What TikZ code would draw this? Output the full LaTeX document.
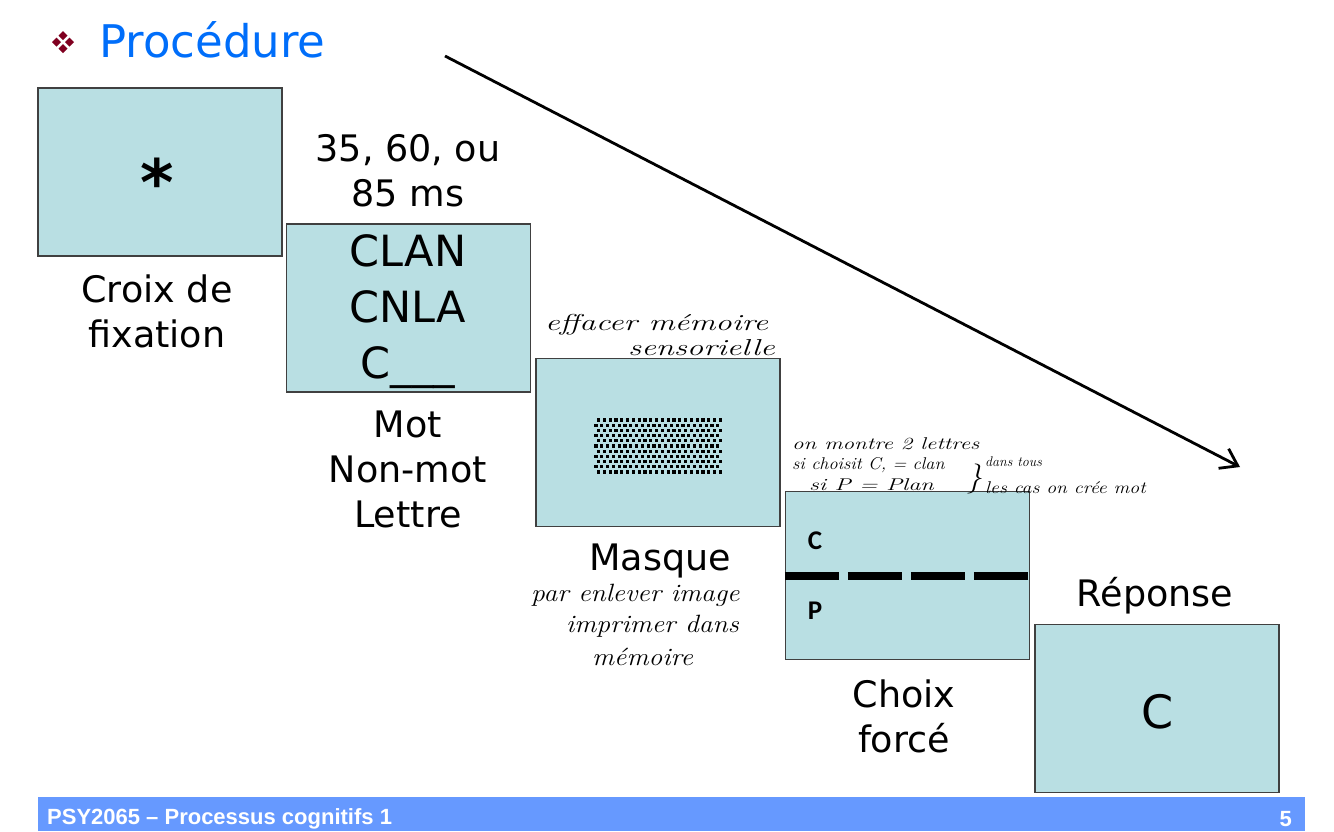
\documentclass[tikz,border=0pt]{standalone}
\usepackage{fontspec}
\setmainfont{DejaVu Sans}
\newfontfamily\footfont{Liberation Sans}
\newfontfamily\calfont{Carlito}
\newfontfamily\handfont{Latin Modern Roman}
\usetikzlibrary{arrows.meta}
\definecolor{boxfill}{RGB}{185,223,227}
\definecolor{titleblue}{RGB}{0,110,250}
\definecolor{bulletred}{RGB}{128,0,32}
\definecolor{footblue}{RGB}{102,153,255}
\newcommand{\hw}[3]{{\handfont\itshape\fontsize{#1}{#1}\selectfont\scalebox{#2}[1]{#3}}}
\tikzset{
  screen/.style={draw=black!75, line width=1.2pt, fill=boxfill, minimum width=244pt, minimum height=168pt, inner sep=0pt},
  lbl/.style={font=\fontsize{36.5}{45}\selectfont, align=center, inner sep=0pt},
  big/.style={font=\fontsize{43}{56}\selectfont, align=center, inner sep=0pt},
  hand/.style={align=left, inner sep=0pt, anchor=west},
  dashbar/.style={line width=8pt, dash pattern=on 54pt off 9pt},
  flow/.style={line width=2.8pt, -{Straight Barb[length=16pt,width=22pt,line width=2.8pt]}},
  diam/.style={fill=bulletred}
}
\begin{document}
\begin{tikzpicture}[x=1pt,y=-1pt]
\useasboundingbox (0,0) rectangle (1334,831);
% title bullet
\foreach \dx/\dy in {0/-6.5,-6.5/0,6.5/0,0/6.5}{
  \fill[diam] (63+\dx,42+\dy-4.5) -- (63+\dx+4.5,42+\dy) -- (63+\dx,42+\dy+4.5) -- (63+\dx-4.5,42+\dy) -- cycle;
}
\node[anchor=west, inner sep=0pt, text=titleblue, font=\fontsize{45}{50}\selectfont] (title) at (99,40) {Procédure};
% long arrow
\coordinate (arrS) at (445,56);
\coordinate (arrE) at (1240,467);
\draw[flow] (arrS) -- (arrE);
% screens
\node[screen] (croix) at (160,172) {};
\node[inner sep=0pt, font=\bfseries\fontsize{64}{64}\selectfont] (star) at (157,182) {*};
\node[lbl] (croixlbl) at (157,311) {Croix de\\fixation};

\node[lbl] (dur) at (408,171) {35, 60, ou\\85 ms};
\node[screen] (mot) at (408.5,308) {};
\node[big] (motTxt) at (408,312) {CLAN\\CNLA\\C\_\_\_};
\node[lbl] (motlbl) at (408,469) {Mot\\Non-mot\\Lettre};

\node[screen] (masque) at (658,442.5) {};
\foreach \r in {0,...,10}{
  \foreach \c in {0,...,21}{
    \pgfmathsetmacro{\xx}{596+\c*5.8+mod(\r+1,2)*2.5}
    \pgfmathsetmacro{\yy}{420+\r*5.2}
    \fill (\xx-1.6,\yy-1.6) rectangle ++(3.2,3.2);
  }
}
\node[lbl] (masquelbl) at (660,561) {Masque};

\node[screen] (choix) at (907.5,575.5) {};
\draw[dashbar] (choix.west) -- (choix.east);
\node[inner sep=0pt, font=\calfont\bfseries\fontsize{27}{27}\selectfont] (cC) at (815,541) {C};
\node[inner sep=0pt, font=\calfont\bfseries\fontsize{27}{27}\selectfont] (cP) at (815,611) {P};
\node[lbl] (choixlbl) at (904,716) {Choix\\forcé};

\node[lbl] (reponselbl) at (1155,596) {Réponse};
\node[screen] (reponse) at (1157,708.5) {};
\node[inner sep=0pt, font=\fontsize{46}{46}\selectfont] (rC) at (1158,712) {C};

% handwritten notes
\node[hand] (n1) at (545,325) {\hw{23}{1.42}{effacer mémoire}};
\node[hand] (n2) at (628,348) {\hw{23}{1.42}{sensorielle}};
\node[hand] (n3) at (792,444) {\hw{17}{1.35}{on montre 2 lettres}};
\node[hand] (n4) at (792,465) {\hw{17}{1.07}{si choisit C, = clan}};
\node[hand] (n5) at (809,485) {\hw{17}{1.43}{si P = Plan}};
\node[hand] (n6) at (967,479) {\hw{30}{1}{\}}};
\node[hand] (n7) at (985,462) {\hw{14}{1.0}{dans tous}};
\node[hand] (n8) at (985,488) {\hw{17}{1.16}{les cas on crée mot}};
\node[hand] (n9) at (531,595) {\hw{25}{1.1}{par enlever image}};
\node[hand] (n10) at (566,626) {\hw{25}{1.1}{imprimer dans}};
\node[hand] (n11) at (592,657) {\hw{25}{1.1}{mémoire}};
% footer
\fill[footblue] (38,797) rectangle (1305,831);
\node[anchor=west, inner sep=0pt, text=white, font=\footfont\bfseries\fontsize{22}{22}\selectfont] (foot) at (47,819) {PSY2065 – Processus cognitifs 1};
\node[anchor=east, inner sep=0pt, text=white, font=\footfont\bfseries\fontsize{22}{22}\selectfont] (page) at (1292,819) {5};
\end{tikzpicture}
\end{document}
